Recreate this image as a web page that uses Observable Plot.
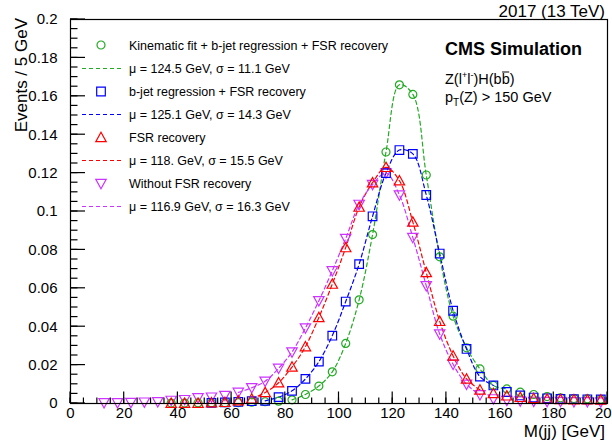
<!DOCTYPE html>
<html>
<head>
<meta charset="utf-8">
<script src="https://cdn.jsdelivr.net/npm/d3@7"></script>
<script src="https://cdn.jsdelivr.net/npm/@observablehq/plot@0.6"></script>
<style>
  html, body { margin: 0; padding: 0; background: #fff; }
  #chart svg { display: block; font-family: "Liberation Sans", Arial, Helvetica, sans-serif; }
</style>
</head>
<body>
<div id="chart"></div>
<script>
// Dijet invariant mass, bin centres (5 GeV bins)
const massBins = [12.5, 17.5, 22.5, 27.5, 32.5, 37.5, 42.5, 47.5, 52.5, 57.5,
  62.5, 67.5, 72.5, 77.5, 82.5, 87.5, 92.5, 97.5, 102.5, 107.5,
  112.5, 117.5, 122.5, 127.5, 132.5, 137.5, 142.5, 147.5, 152.5, 157.5,
  162.5, 167.5, 172.5, 177.5, 182.5, 187.5, 192.5, 197.5];

// Normalised events per bin for each reconstruction
const kinFit = [null, null, null, null, null, 0.0002, 0.0002, 0.0003, 0.0003, 0.0004,
  0.0005, 0.0007, 0.0009, 0.0012, 0.0019, 0.0047, 0.0091, 0.0165, 0.0313, 0.054,
  0.088, 0.131, 0.166, 0.161, 0.119, 0.0764, 0.0455, 0.029, 0.018, 0.0094,
  0.0076, 0.0059, 0.0047, 0.0036, 0.003, 0.0026, 0.0024, 0.0022];
const bjetReg = [null, null, null, null, null, null, null, null, 0.0003, 0.0006,
  0.0008, 0.0012, 0.0014, 0.0033, 0.0066, 0.0128, 0.0218, 0.0353, 0.0531, 0.0726,
  0.0975, 0.12, 0.132, 0.130, 0.1086, 0.0781, 0.0483, 0.0284, 0.014, 0.0094,
  0.006, 0.0042, 0.0031, 0.0027, 0.0024, 0.0023, 0.0022, 0.0021];
const fsrRec = [null, null, null, null, null, 0.0001, 0.0001, 0.0002, 0.0004, 0.0006,
  0.0015, 0.0024, 0.0057, 0.0108, 0.019, 0.0296, 0.0448, 0.0622, 0.0812, 0.1023,
  0.115, 0.123, 0.116, 0.0945, 0.0682, 0.0428, 0.0248, 0.0128, 0.0071, 0.0052,
  0.004, 0.0032, 0.0026, 0.0023, 0.0021, 0.002, 0.0019, 0.0018];
const noFsr = [0.0004, 0.0004, 0.0005, 0.0007, 0.0009, 0.0016, 0.002, 0.003, 0.0033, 0.0042,
  0.0058, 0.0082, 0.0116, 0.0183, 0.0268, 0.0393, 0.0535, 0.0691, 0.0859, 0.1037,
  0.114, 0.120, 0.1086, 0.0864, 0.0613, 0.0362, 0.0204, 0.01, 0.0045, 0.0024,
  0.0016, 0.0013, 0.0011, 0.001, 0.001, 0.0009, 0.0009, 0.0008];

// Fit windows (GeV) for the dashed curves
const fitFrom = [80, 72, 67, 62];
const fitTo = [167, 162, 157, 155];

const seriesNames = ["Kinematic fit + b-jet regression + FSR recovery",
  "b-jet regression + FSR recovery", "FSR recovery", "Without FSR recovery"];
const fitLabels = ["μ = 124.5 GeV, σ = 11.1 GeV", "μ = 125.1 GeV, σ = 14.3 GeV",
  "μ = 118. GeV, σ = 15.5 GeV", "μ = 116.9 GeV, σ = 16.3 GeV"];
const seriesColors = ["#22aa22", "#0000ff", "#ff0000", "#cc33ff"];

const xTicks = [0, 20, 40, 60, 80, 100, 120, 140, 160, 180, 200];
const yTicks = [0, 0.02, 0.04, 0.06, 0.08, 0.1, 0.12, 0.14, 0.16, 0.18, 0.2];
const xDomain = [0, 200], yDomain = [0, 0.2];

// Open marker shapes
const circleSym = {draw(ctx, size) { const r = Math.sqrt(size / Math.PI); ctx.moveTo(r, 0); ctx.arc(0, 0, r, 0, 2 * Math.PI); }};
const squareSym = {draw(ctx, size) { const r = Math.sqrt(size / Math.PI); ctx.rect(-r, -r, 2 * r, 2 * r); }};
const triUpSym = {draw(ctx, size) { const r = Math.sqrt(size / Math.PI); ctx.moveTo(0, -r); ctx.lineTo(r, 0.8 * r); ctx.lineTo(-r, 0.8 * r); ctx.closePath(); }};
const triDownSym = {draw(ctx, size) { const r = Math.sqrt(size / Math.PI); ctx.moveTo(0, r); ctx.lineTo(r, -0.8 * r); ctx.lineTo(-r, -0.8 * r); ctx.closePath(); }};
const symbols = [circleSym, squareSym, triUpSym, triDownSym];
const radii = [4, 4.3, 5.2, 5.2];

const allValues = [kinFit, bjetReg, fsrRec, noFsr];
const rows = allValues.map(vals => massBins.map((m, i) => ({m, v: vals[i]})).filter(d => d.v != null));

const fitMarks = rows.map((r, k) => Plot.line(r.filter(d => d.m >= fitFrom[k] && d.m <= fitTo[k]), {
  x: "m", y: "v", stroke: seriesColors[k], strokeWidth: 1.2, strokeDasharray: "4,3", curve: "catmull-rom"
}));
const drawOrder = [3, 0, 1, 2];
const dotMarks = drawOrder.map(k => Plot.dot(rows[k], {
  x: "m", y: "v", symbol: symbols[k], r: radii[k], stroke: seriesColors[k], fill: "none", strokeWidth: 1.2
}));

// Tick segments (value, length in px) for the inward ticks
const xTickSegs = [...d3.range(0, 201, 5).map(v => ({v, len: 5.5})), ...xTicks.map(v => ({v, len: 11.5}))];
const yTickSegs = [...d3.range(0, 0.2001, 0.005).map(v => ({v, len: 7.5})), ...yTicks.map(v => ({v, len: 15}))];

const W = 612, H = 446, mL = 70, mR = 5, mT = 19, mB = 43;
const yFmt = d => String(+d.toFixed(2));

const plot = Plot.plot({
  width: W, height: H,
  marginLeft: mL, marginRight: mR, marginTop: mT, marginBottom: mB,
  x: {domain: xDomain},
  y: {domain: yDomain},
  style: {fontFamily: "Liberation Sans, Arial, Helvetica, sans-serif", fontSize: "15px", color: "black", background: "white", overflow: "visible"},
  marks: [
    Plot.axisX({ticks: xTicks, tickSize: 0, tickPadding: 4, tickFormat: d => String(d), label: null}),
    Plot.axisY({ticks: yTicks, tickSize: 0, tickPadding: 13, tickFormat: yFmt, label: null}),
    ...fitMarks,
    ...dotMarks,
    Plot.frame({stroke: "black", strokeWidth: 1.2})
  ]
});
document.getElementById("chart").appendChild(plot);

const svg = d3.select(plot);
const font = "Liberation Sans, Arial, Helvetica, sans-serif";

// Position functions rebuilt from the plot's scale descriptors
const xDesc = plot.scale("x") || {}, yDesc = plot.scale("y") || {};
const fx = d3.scaleLinear(xDesc.domain || xDomain, xDesc.range || [mL, W - mR]);
const fy = d3.scaleLinear(yDesc.domain || yDomain, yDesc.range || [H - mB, mT]);
const x0 = fx(xDomain[0]), y0 = fy(yDomain[0]);

// Inward ticks on the bottom and left edges
const ticks = svg.append("g").attr("fill", "none").attr("stroke", "#000").attr("stroke-width", 1.2);
xTickSegs.forEach(({v, len}) => {
  const px = fx(v);
  ticks.append("line").attr("x1", px).attr("x2", px).attr("y1", y0).attr("y2", y0 - len).attr("stroke", "#000");
});
yTickSegs.forEach(({v, len}) => {
  const py = fy(v);
  ticks.append("line").attr("x1", x0).attr("x2", x0 + len).attr("y1", py).attr("y2", py).attr("stroke", "#000");
});

// Legend
const lg = svg.append("g").attr("font-family", font).attr("font-size", 12.5).attr("text-anchor", "start");
const rowY = [45, 68.5, 91.5, 114.5, 137.5, 160.5, 183.5, 206.5];
seriesNames.forEach((name, k) => {
  const yM = rowY[2 * k], yF = rowY[2 * k + 1];
  lg.append("path")
    .attr("d", d3.symbol().type(symbols[k]).size(Math.PI * radii[k] * radii[k])())
    .attr("transform", `translate(101,${yM})`)
    .attr("fill", "none").attr("stroke", seriesColors[k]).attr("stroke-width", 1.2);
  lg.append("text").attr("x", 129).attr("y", yM + 4.5).text(name);
  lg.append("line").attr("x1", 82).attr("x2", 122).attr("y1", yF).attr("y2", yF)
    .attr("stroke", seriesColors[k]).attr("stroke-width", 1.2).attr("stroke-dasharray", "4,3");
  lg.append("text").attr("x", 129).attr("y", yF + 4.5).text(fitLabels[k]);
});

// Header and labels
svg.append("text").attr("x", 605).attr("y", 16.5).attr("text-anchor", "end")
  .attr("font-family", font).attr("font-size", 17).text("2017 (13 TeV)");
svg.append("text").attr("x", 445).attr("y", 55).attr("text-anchor", "start").attr("font-family", font)
  .attr("font-size", 18).attr("font-weight", "bold").text("CMS Simulation");

const proc = svg.append("text").attr("x", 445).attr("y", 84).attr("text-anchor", "start")
  .attr("font-family", font).attr("font-size", 14.5);
proc.append("tspan").text("Z(l");
proc.append("tspan").attr("font-size", 9).attr("dy", -6).text("+");
proc.append("tspan").attr("dy", 6).text("l");
proc.append("tspan").attr("font-size", 9).attr("dy", -6).text("-");
proc.append("tspan").attr("dy", 6).text(")H(b");
const bbar = proc.append("tspan").text("b");
proc.append("tspan").text(")");
const bb = bbar.node().getBBox();
svg.append("line").attr("x1", bb.x + 0.5).attr("x2", bb.x + bb.width - 0.5)
  .attr("y1", bb.y + 1).attr("y2", bb.y + 1).attr("stroke", "black").attr("stroke-width", 1);

const cut = svg.append("text").attr("x", 445).attr("y", 101.5).attr("text-anchor", "start")
  .attr("font-family", font).attr("font-size", 14.5);
cut.append("tspan").text("p");
cut.append("tspan").attr("font-size", 10).attr("dy", 4).text("T");
cut.append("tspan").attr("dy", -4).text("(Z) > 150 GeV");

svg.append("text").attr("x", 605).attr("y", 437).attr("text-anchor", "end")
  .attr("font-family", font).attr("font-size", 17).text("M(jj) [GeV]");
svg.append("text").attr("transform", "translate(27,18) rotate(-90)").attr("text-anchor", "end")
  .attr("font-family", font).attr("font-size", 17).text("Events / 5 GeV");
</script>
</body>
</html>
